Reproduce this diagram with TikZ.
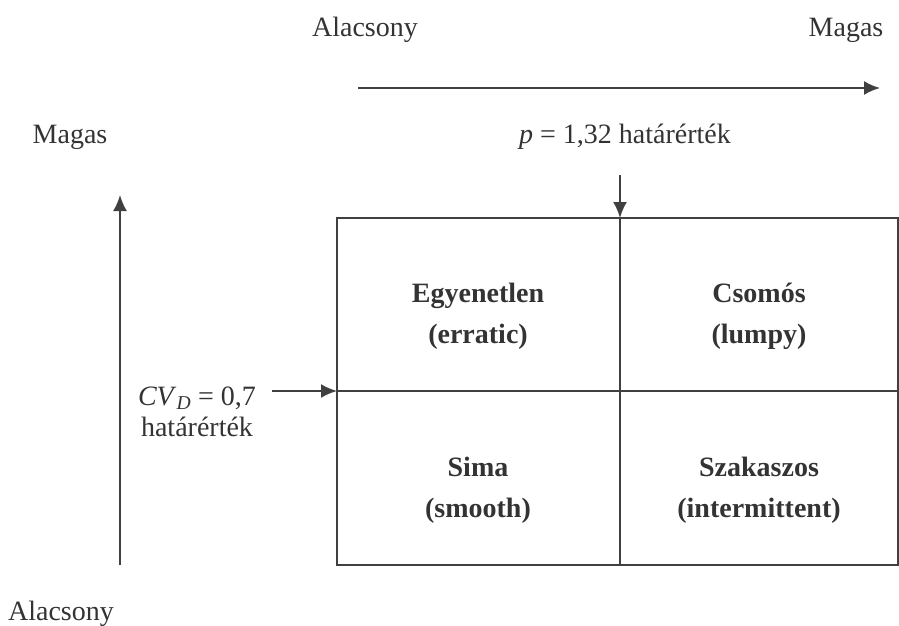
\documentclass[tikz,border=0pt]{standalone}
\usepackage{fontspec}
\setmainfont{Liberation Serif}
\usetikzlibrary{arrows.meta}
\begin{document}
\begin{tikzpicture}[x=1pt,y=-1pt,
    lbl/.style={text=black!80, font=\fontsize{28}{31}\selectfont, inner sep=0pt, anchor=base, align=center},
    cell/.style={lbl, font=\fontsize{28}{41}\selectfont\bfseries},
    axis/.style={draw=black!75, line width=2pt, -{Latex[length=16pt,width=14pt]}},
    frame/.style={draw=black!75, line width=2pt}]
    \useasboundingbox (0,0) rectangle (899,625);

    %box
    \draw[frame] (337,218) rectangle (898,565);
    \draw[frame] (620,218) -- (620,565);
    \draw[frame] (337,391) -- (898,391);
    \coordinate (boxtop) at (620,218);
    \coordinate (boxleft) at (337,391);

    %axis
    \coordinate (xstart) at (358,88);
    \coordinate (xend) at (880,88);
    \coordinate (ystart) at (120,565);
    \coordinate (yend) at (120,195);
    \coordinate (pstart) at (620,175);
    \coordinate (cvstart) at (272,391);
    \draw[axis] (xstart) -- (xend);
    \draw[axis] (ystart) -- (yend);
    \draw[axis] (pstart) -- (boxtop);
    \draw[axis] (cvstart) -- (boxleft);

    %labels
    \node[lbl] (lowx) at (365,36) {Alacsony};
    \node[lbl] (highx) at (846,36) {Magas};
    \node[lbl] (highy) at (70,143) {Magas};
    \node[lbl] (lowy) at (61,620) {Alacsony};
    \node[lbl] (pthr) at (625,143) {\textit{p} = 1,32 határérték};
    \node[lbl] (cvthr) at (197,436) {\textit{CV}\textsubscript{\textit{D}} = 0,7\\határérték};

    %cells
    \node[cell] (erratic) at (478,343) {Egyenetlen\\(erratic)};
    \node[cell] (lumpy) at (759,343) {Csomós\\(lumpy)};
    \node[cell] (smooth) at (478,517) {Sima\\(smooth)};
    \node[cell] (intermittent) at (759,517) {Szakaszos\\(intermittent)};
\end{tikzpicture}
\end{document}
